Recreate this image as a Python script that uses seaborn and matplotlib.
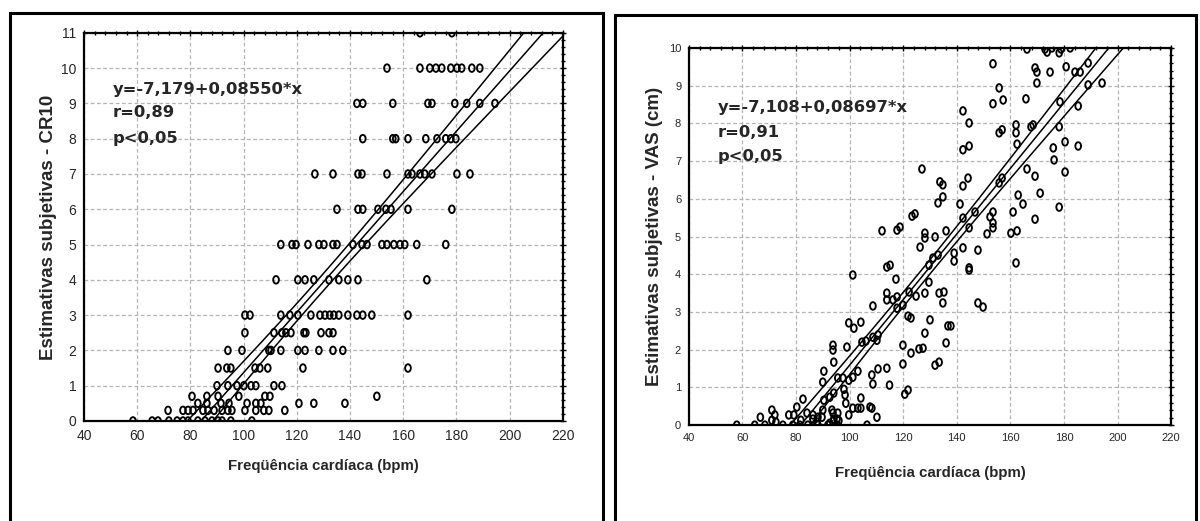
import numpy as np
import matplotlib
matplotlib.use('Agg')
import matplotlib.pyplot as plt
import seaborn as sns
from matplotlib.path import Path
from matplotlib.patches import Rectangle
from matplotlib.ticker import MultipleLocator, AutoMinorLocator

sns.set_style('white')
plt.rcParams['font.family'] = ['Liberation Sans', 'DejaVu Sans']

## Left panel (CR10): heart rate of each point, one row per scale level
cr10_levels = [11, 10, 9, 8, 7, 6, 5, 4, 3, 2.5, 2, 1.5, 1, 0.7, 0.5, 0.3, 0]
cr10_hr_rows = [
    [166.3, 178.3],
    [153.9, 166.3, 170.0, 172.3, 174.5, 177.9, 180.2, 182.0, 185.8, 188.8],
    [142.6, 144.8, 156.1, 169.3, 170.8, 179.4, 183.9, 188.8, 194.5],
    [144.8, 156.1, 157.2, 161.8, 168.5, 172.7, 176.0, 177.9, 179.8],
    [126.8, 133.6, 143.0, 144.5, 153.9, 161.8, 163.3, 166.3, 168.1, 170.8, 180.2, 185.1],
    [135.1, 143.0, 144.8, 150.5, 153.5, 155.4, 161.8, 178.3],
    [114.0, 118.2, 119.7, 124.2, 128.3, 130.2, 133.6, 135.1, 141.1, 144.5, 146.4, 152.0,
     153.9, 156.5, 158.8, 160.6, 165.1, 176.0],
    [112.2, 120.4, 123.1, 126.4, 132.1, 135.8, 139.2, 143.0, 168.9],
    [100.5, 102.4, 114.0, 117.4, 120.4, 125.3, 128.7, 130.6, 132.4, 133.9, 135.8, 139.2,
     142.6, 144.8, 148.2, 161.8],
    [100.5, 111.4, 114.4, 115.9, 117.8, 122.7, 123.4, 129.1, 132.1, 133.6],
    [94.1, 99.4, 109.5, 110.3, 114.0, 120.4, 123.1, 128.3, 133.6, 137.3],
    [90.4, 93.7, 95.2, 104.3, 106.1, 109.1, 122.3, 161.8],
    [90.0, 94.1, 97.5, 100.1, 102.8, 104.6, 111.4, 114.4],
    [80.6, 86.2, 90.4, 98.2, 108.0, 109.9, 150.1],
    [82.8, 86.2, 91.5, 94.5, 101.3, 104.6, 106.5, 120.8, 126.4, 138.1],
    [71.6, 77.2, 79.1, 81.0, 84.7, 86.6, 88.9, 91.9, 94.1, 95.6, 100.5, 104.6, 107.6,
     109.5, 115.5],
    [58.4, 65.6, 67.8, 71.9, 75.0, 77.2, 79.1, 82.8, 85.5, 88.1, 90.4, 91.9, 95.2, 103.1],
]
cr10_fit = (-7.179, 0.08550)
cr10_text = ['y=-7,179+0,08550*x', 'r=0,89', 'p<0,05']

## Right panel (VAS, cm): heart rate and estimate, same count on each line
vas_hr = [
    57.9, 64.6, 68.4, 75.1, 78.8, 81.4, 84.4, 88.2, 91.9, 95.3, 106.5,
    87.8, 92.6, 93.8, 96.0,
    66.7, 71.0, 72.1, 71.0, 72.5, 77.3, 79.2, 80.3, 81.8, 82.6,
    84.1, 86.3, 86.3, 88.2, 89.7, 90.0, 90.4, 90.0, 90.4,
    92.6, 94.1, 93.4, 94.1, 95.6, 95.3, 93.8,
    93.8, 93.8, 94.1, 95.6, 97.5, 97.9, 98.3, 98.6, 99.0,
    99.7, 101.6, 104.2, 101.2,
    99.7, 101.2, 103.1, 99.7, 101.2, 103.1, 104.2, 104.2,
    104.6, 106.1, 108.7, 110.2, 110.6, 108.7, 108.3, 108.7, 110.6, 108.3, 110.2, 107.6,
    112.1, 117.7, 118.8, 123.3, 124.4, 126.3, 128.1, 128.1, 131.9, 133.0, 133.7, 134.8, 134.8, 136.0, 127.0,
    141.2, 142.3, 144.2, 142.3, 144.6, 146.8, 142.3, 144.6, 142.3, 144.6,
    151.3, 153.5, 153.5, 152.4, 153.5, 160.2, 162.5,
    142.3, 147.9,
    161.0, 164.7, 162.9, 169.2, 178.2, 171.1, 166.2, 169.2, 156.9, 155.8,
    162.1, 162.1, 167.7, 168.5, 156.9, 155.8, 162.5, 178.2, 180.4, 176.0, 176.3, 185.3, 180.4,
    169.9, 155.8, 157.3, 153.5, 165.8, 178.5, 185.3,
    153.5, 169.2, 169.9, 174.8, 180.8, 184.1, 186.0, 189.0, 194.2, 189.0,
    166.2, 172.9, 173.7, 175.5, 178.2, 178.9, 182.3,
    113.9, 115.1, 117.3, 113.9, 113.9, 116.2, 117.7, 117.7, 119.9, 122.2, 124.8,
    129.6, 129.6, 131.1, 133.0, 139.0, 139.0, 144.6, 144.6, 162.1,
    130.0, 128.1, 127.4, 125.9, 119.9, 119.9, 122.9, 121.8, 122.9, 128.1,
    131.9, 133.4, 134.8, 133.4, 135.2, 136.0, 136.7, 137.8, 147.9, 149.8,
    113.9, 114.9, 120.6, 121.8,
]
vas_val = [
    0, 0, 0, 0, 0, 0, 0, 0, 0, 0, 0,
    0.08, 0.05, 0.10, 0.12,
    0.21, 0.40, 0.27, 0.13, 0.08, 0.27, 0.27, 0.48, 0.13, 0.69,
    0.32, 0.27, 0.16, 0.21, 0.21, 0.40, 0.66, 1.14, 1.43,
    0.74, 0.85, 0.40, 0.16, 0.32, 0.16, 0.32,
    2.12, 1.99, 1.67, 1.25, 1.25, 0.95, 0.80, 0.58, 2.07,
    2.71, 2.57, 2.73, 3.98,
    1.19, 1.27, 1.43, 0.27, 0.45, 0.45, 0.72, 0.45,
    2.20, 2.23, 2.33, 2.25, 2.39, 3.16, 1.33, 1.09, 1.49, 0.45, 0.21, 0.48,
    5.15, 5.17, 5.25, 5.54, 5.60, 4.72, 5.09, 4.96, 4.99, 5.89, 6.45, 6.37, 6.05, 5.15, 6.79,
    5.86, 6.34, 6.55, 5.49, 5.23, 5.65, 7.30, 7.40, 8.33, 8.01,
    5.07, 5.23, 5.36, 5.52, 5.65, 5.09, 5.15,
    4.70, 4.64,
    5.65, 5.86, 6.10, 5.46, 5.78, 6.15, 6.79, 6.60, 6.55, 6.42,
    7.96, 7.75, 7.91, 7.96, 7.83, 7.75, 7.45, 7.91, 7.51, 7.35, 7.03, 7.40, 6.71,
    9.07, 8.94, 8.62, 8.52, 8.65, 8.57, 8.46,
    9.58, 9.47, 9.36, 9.36, 9.50, 9.36, 9.36, 9.60, 9.07, 9.02,
    9.97, 9.97, 9.89, 10.0, 9.87, 9.97, 10.0,
    4.19, 4.24, 3.87, 3.50, 3.32, 3.32, 3.40, 3.10, 3.18, 3.53, 3.42,
    3.79, 4.24, 4.43, 4.51, 4.56, 4.35, 4.17, 4.11, 4.30,
    2.79, 2.44, 2.04, 2.02, 2.12, 1.62, 1.91, 2.89, 2.84, 3.50,
    1.59, 1.67, 3.24, 3.50, 3.53, 2.18, 2.63, 2.63, 3.24, 3.13,
    1.51, 1.06, 0.82, 0.93,
]
vas_fit = (-7.108, 0.08697)
vas_text = ['y=-7,108+0,08697*x', 'r=0,91', 'p<0,05']

x_ticks = [40, 60, 80, 100, 120, 140, 160, 180, 200, 220]
x_label = 'Freqüência cardíaca (bpm)'

# open, slightly tall circle like the original
circ = Path.unit_circle()
oval = Path(circ.vertices * [0.75, 1.0], circ.codes)


def band(hr, val, b0, b1):
    # fitted line with 95% confidence limits of the mean
    hr = np.asarray(hr, float)
    val = np.asarray(val, float)
    n = len(hr)
    s = np.sqrt(((val - (b0 + b1 * hr)) ** 2).sum() / (n - 2))
    xm = hr.mean()
    sxx = ((hr - xm) ** 2).sum()
    xs = np.linspace(40, 220, 300)
    yc = b0 + b1 * xs
    hw = 1.97 * s * np.sqrt(1 / n + (xs - xm) ** 2 / sxx)
    return xs, yc, yc - hw, yc + hw


def panel(ax, hr, val, fit, lines, ymax, ylabel, tsize, ty, ylab_x, xlab_y):
    ax.set_axisbelow(True)
    ax.grid(True, which='major', color='#b4b4b4', linestyle=(0, (3, 2)), linewidth=0.9)
    sns.scatterplot(x=hr, y=val, ax=ax, marker=oval, s=30, facecolors='none',
                    edgecolor='black', linewidth=1.35, zorder=3)
    xs, yc, lo, hi = band(hr, val, *fit)
    for yy in (lo, yc, hi):
        ax.plot(xs, yy, color='black', lw=1.1, zorder=4)
    ax.set_xlim(40, 220)
    ax.set_ylim(0, ymax)
    ax.set_xticks(x_ticks)
    ax.yaxis.set_major_locator(MultipleLocator(1))
    ax.xaxis.set_minor_locator(AutoMinorLocator(5))
    ax.yaxis.set_minor_locator(AutoMinorLocator(5))
    ax.tick_params(which='both', direction='inout', top=True, right=True,
                   labeltop=False, labelright=False, color='black')
    ax.tick_params(which='major', length=5, width=1, labelsize=tsize, pad=3)
    ax.tick_params(which='minor', length=3, width=1)
    for sp in ax.spines.values():
        sp.set_linewidth(1.6)
        sp.set_color('black')
    ax.set_xlabel(x_label, fontsize=10.8, fontweight='bold', va='center')
    ax.xaxis.set_label_coords(0.5, xlab_y)
    ax.set_ylabel(ylabel, fontsize=13.5, fontweight='bold', va='center')
    ax.yaxis.set_label_coords(ylab_x, 0.5)
    for txt, y in zip(lines, ty):
        ax.text(0.06, y, txt, transform=ax.transAxes, fontsize=11.8, fontweight='bold',
                family='DejaVu Sans', va='center', ha='left')


cr10_hr = np.concatenate([np.asarray(r) for r in cr10_hr_rows])
cr10_val = np.concatenate([np.full(len(r), lv) for r, lv in zip(cr10_hr_rows, cr10_levels)])

fig = plt.figure(figsize=(12, 5.21), dpi=100)
ax1 = fig.add_axes([0.070, 0.192, 0.399, 0.745])
ax2 = fig.add_axes([0.574, 0.184, 0.402, 0.724])

panel(ax1, cr10_hr, cr10_val, cr10_fit, cr10_text, 11,
      'Estimativas subjetivas - CR10', 10, [0.853, 0.794, 0.729], -0.075, -0.116)
panel(ax2, vas_hr, vas_val, vas_fit, vas_text, 10,
      'Estimativas subjetivas - VAS (cm)', 8, [0.841, 0.777, 0.711], -0.0705, -0.127)

# outer boxes around each panel
fig.add_artist(Rectangle((0.0083, -0.05), 0.4942, 1.025, transform=fig.transFigure,
                         fill=False, ec='black', lw=2.2))
fig.add_artist(Rectangle((0.5125, -0.05), 0.4842, 1.021, transform=fig.transFigure,
                         fill=False, ec='black', lw=2.2))

plt.savefig('out.png', dpi=100)
